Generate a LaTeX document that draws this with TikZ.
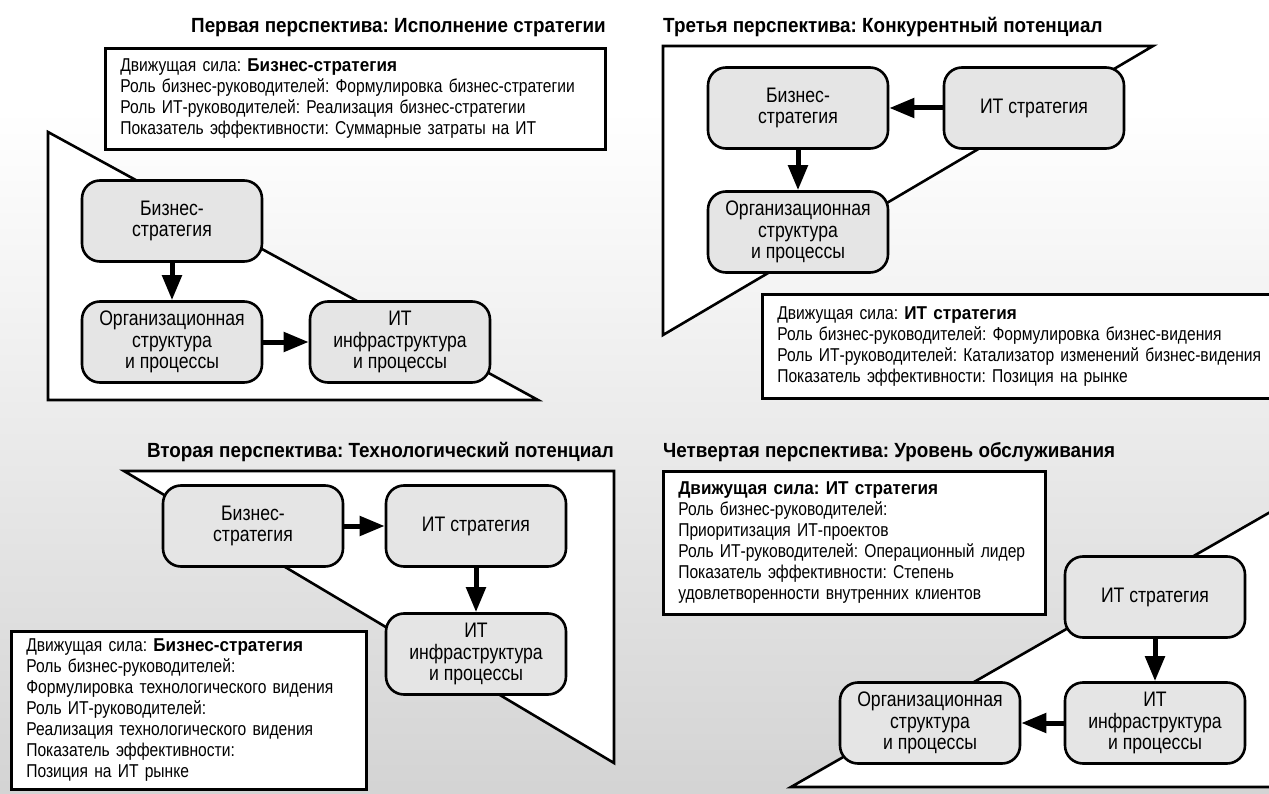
\documentclass[tikz,border=0pt]{standalone}
\usepackage{fontspec}
\setmainfont{Liberation Sans}[FakeStretch=0.84, BoldFeatures={FakeStretch=0.92}]
\usetikzlibrary{arrows.meta}
\frenchspacing
\tikzset{stage/.style={draw, fill=black!10, line width=2.6pt, rounded corners=18pt,
   minimum width=180pt, minimum height=81pt, inner sep=0pt, align=center,
   font=\fontsize{21}{21.5}\selectfont},
 infobox/.style={draw, fill=white, line width=2.6pt, anchor=north west,
   align=left, inner xsep=15pt, inner ysep=0pt},
 heading/.style={font=\fontsize{20.5}{22}\selectfont\bfseries, inner sep=0pt},
 push/.style={line width=5pt, -{Triangle[length=25pt,width=19pt]}},
 frame/.style={draw, fill=white, line width=2.6pt},
 }

\begin{document}
\begin{tikzpicture}[x=1pt, y=-1pt, every node/.style={font=\fontsize{18.6}{21}\selectfont}]
        \useasboundingbox (0,0) rectangle (1269,794);
        \fill[white] (0,0) rectangle (1269,110);
        \shade[top color=white, bottom color=black!17] (0,110) rectangle (1269,794);

        \draw[frame] (48,132) -- (48,400) -- (538,400) -- cycle;
        \draw[frame] (663,46) -- (1153,46) -- (663,335) -- cycle;
        \draw[frame] (124,471) -- (614,471) -- (614,763) -- cycle;
        \draw[frame] (791,787) -- (1300,787) -- (1300,495) -- cycle;

        \node[heading, anchor=base east] (title1) at (606,33) {Первая перспектива: Исполнение стратегии};
        \node[heading, anchor=base west] (title3) at (663,33) {Третья перспектива: Конкурентный потенциал};
        \node[heading, anchor=base east] (title2) at (614,457) {Вторая перспектива: Технологический потенциал};
        \node[heading, anchor=base west] (title4) at (663,457) {Четвертая перспектива: Уровень обслуживания};

        \node[infobox, text width=470pt, minimum height=101pt] (info1) at (104,47)
            {Движущая сила: \textbf{Бизнес-стратегия}\\
             Роль бизнес-руководителей: Формулировка бизнес-стратегии\\
             Роль ИТ-руководителей: Реализация бизнес-стратегии\\
             Показатель эффективности: Суммарные затраты на ИТ};
        \node[infobox, text width=520pt, minimum height=104pt] (info3) at (761,293)
            {Движущая сила: \textbf{ИТ стратегия}\\
             Роль бизнес-руководителей: Формулировка бизнес-видения\\
             Роль ИТ-руководителей: Катализатор изменений бизнес-видения\\
             Показатель эффективности: Позиция на рынке};
        \node[infobox, text width=325pt, minimum height=158pt] (info2) at (10,630)
            {Движущая сила: \textbf{Бизнес-стратегия}\\
             Роль бизнес-руководителей:\\
             Формулировка технологического видения\\
             Роль ИТ-руководителей:\\
             Реализация технологического видения\\
             Показатель эффективности:\\
             Позиция на ИТ рынке};
        \node[infobox, text width=352pt, minimum height=143pt] (info4) at (662,470)
            {\textbf{Движущая сила: ИТ стратегия}\\
             Роль бизнес-руководителей:\\
             Приоритизация ИТ-проектов\\
             Роль ИТ-руководителей: Операционный лидер\\
             Показатель эффективности: Степень\\
             удовлетворенности внутренних клиентов};

        \node[stage] (bs1) at (172,221) {Бизнес-\\стратегия};
        \node[stage] (org1) at (172,342) {Организационная\\структура\\и процессы};
        \node[stage] (inf1) at (400,342) {ИТ\\инфраструктура\\и процессы};
        \draw[push] (bs1) -- (org1);
        \draw[push] (org1) -- (inf1);

        \node[stage] (bs3) at (798,108) {Бизнес-\\стратегия};
        \node[stage] (it3) at (1034,108) {ИТ стратегия};
        \node[stage] (org3) at (798,232) {Организационная\\структура\\и процессы};
        \draw[push] (it3) -- (bs3);
        \draw[push] (bs3) -- (org3);

        \node[stage] (bs2) at (253,526) {Бизнес-\\стратегия};
        \node[stage] (it2) at (476,526) {ИТ стратегия};
        \node[stage] (inf2) at (476,654) {ИТ\\инфраструктура\\и процессы};
        \draw[push] (bs2) -- (it2);
        \draw[push] (it2) -- (inf2);

        \node[stage] (it4) at (1155,597) {ИТ стратегия};
        \node[stage] (inf4) at (1155,723) {ИТ\\инфраструктура\\и процессы};
        \node[stage] (org4) at (930,723) {Организационная\\структура\\и процессы};
        \draw[push] (it4) -- (inf4);
        \draw[push] (inf4) -- (org4);
    \end{tikzpicture}
\end{document}
